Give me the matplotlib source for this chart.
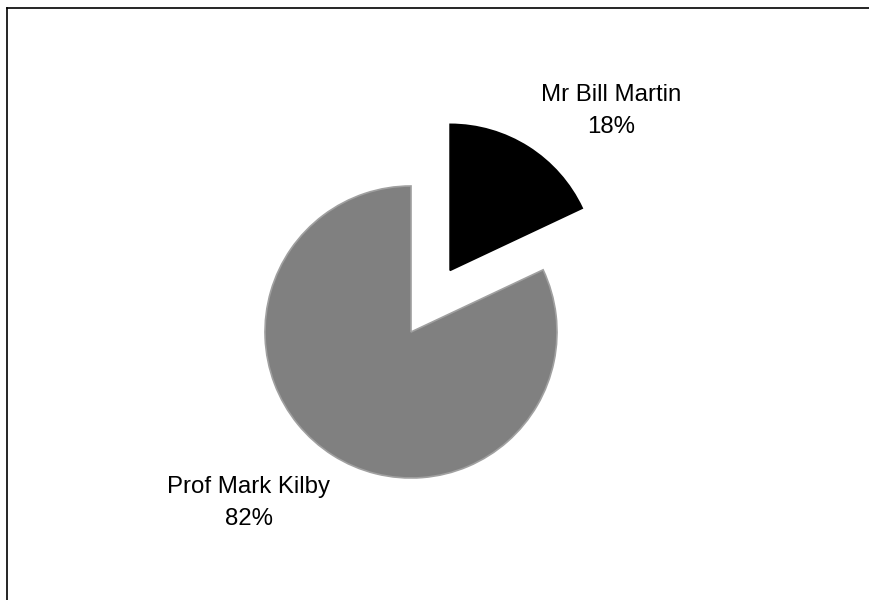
import matplotlib
matplotlib.use("Agg")
import matplotlib.pyplot as plt
from matplotlib.lines import Line2D

names = ["Mr Bill Martin", "Prof Mark Kilby"]
shares = [18, 82]
pct_labels = ["18%", "82%"]
colors = ["#000000", "#808080"]
edges = ["#000000", "#a0a0a0"]

W, H = 870, 600
R = 146
fig = plt.figure(figsize=(8.7, 6.0), dpi=100)
ax = fig.add_axes([0, 0, 1, 1])

wedges, _ = ax.pie(shares, colors=colors, startangle=90, counterclock=False,
                   center=(411, H - 332), radius=R, explode=[0.5 * R, 0],
                   frame=True)
for w, ec in zip(wedges, edges):
    w.set_edgecolor(ec)
    w.set_linewidth(1.2)
ax.set_xlim(0, W)
ax.set_ylim(0, H)
ax.set_aspect("equal")
ax.axis("off")

label_pos = [(611, H - 111), (249, H - 503)]
for name, pct, (x, y) in zip(names, pct_labels, label_pos):
    ax.text(x, y, f"{name}\n{pct}", ha="center", va="center",
            fontsize=17.3, family=["Liberation Sans", "DejaVu Sans"],
            linespacing=1.62, color="#000000")

fig.add_artist(Line2D([7.5 / W, 7.5 / W], [0, 1 - 7.5 / H], transform=fig.transFigure,
                      color="black", lw=1.2))
fig.add_artist(Line2D([7.5 / W, 1], [1 - 7.5 / H, 1 - 7.5 / H], transform=fig.transFigure,
                      color="black", lw=1.2))

fig.savefig("out.png", dpi=100)
